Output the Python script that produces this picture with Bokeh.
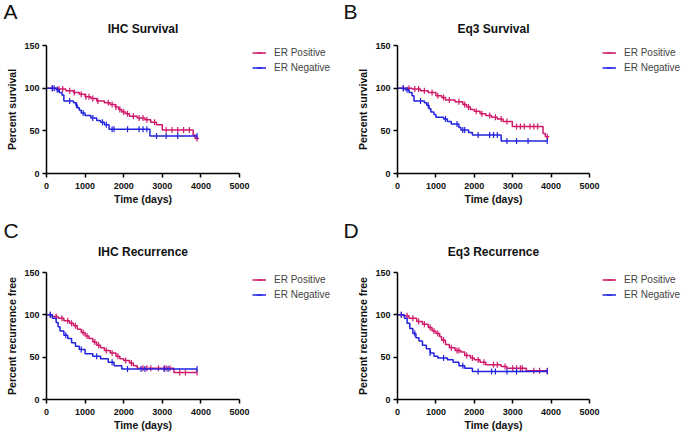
import numpy as np
from bokeh.plotting import figure
from bokeh.layouts import column, row
from bokeh.models import Range1d, Legend, LegendItem, FixedTicker, ColumnDataSource, Title
from bokeh.embed import file_html
from bokeh.resources import INLINE

# ---------------- data ----------------
x_ticks = [0, 1000, 2000, 3000, 4000, 5000]
y_ticks = [0, 50, 100, 150]
series_names = ["ER Positive", "ER Negative"]
titles = ["IHC Survival", "Eq3 Survival", "IHC Recurrence", "Eq3 Recurrence"]
panel_letters = ["A", "B", "C", "D"]
y_labels = ["Percent survival", "Percent survival", "Percent recurrence free", "Percent recurrence free"]

# Panel A: IHC survival
a_pos_t = [0, 300, 500, 700, 850, 1000, 1150, 1300, 1500, 1650, 1780, 1870, 1950, 2050, 2150, 2350, 2550, 2700, 2850, 3000, 3800, 3850, 3950]
a_pos_s = [100, 99, 97, 95, 93, 90, 88, 85, 83, 81, 78, 75, 72, 70, 67, 65, 63, 60, 57, 51, 45, 41, 41]
a_pos_c = [150, 320, 420, 600, 720, 900, 1020, 1100, 1200, 1330, 1600, 1700, 1800, 1900, 2000, 2100, 2250, 2400, 2500, 2600, 2800, 3100, 3250, 3400, 3550, 3700, 3900]
a_neg_t = [0, 250, 330, 400, 450, 700, 760, 800, 850, 900, 1000, 1150, 1300, 1400, 1500, 1620, 2680, 3900]
a_neg_s = [100, 98, 95, 92, 85, 83, 80, 77, 74, 71, 68, 65, 62, 60, 57, 52, 44, 44]
a_neg_c = [150, 200, 280, 600, 780, 950, 1200, 1450, 1550, 1700, 1750, 2100, 2400, 2500, 2600, 2850, 3100, 3400, 3900]

# Panel B: Eq3 survival
b_pos_t = [0, 380, 600, 800, 1000, 1150, 1250, 1500, 1700, 1800, 1900, 2000, 2150, 2300, 2450, 2600, 2750, 2990, 3790, 3850, 3950]
b_pos_s = [100, 99, 97, 95, 91, 89, 86, 84, 81, 78, 75, 73, 70, 68, 66, 64, 61, 55, 47, 43, 43]
b_pos_c = [150, 300, 450, 550, 700, 900, 1050, 1200, 1350, 1600, 1750, 1850, 2050, 2200, 2400, 2550, 2700, 2850, 3100, 3200, 3300, 3450, 3550, 3650, 3900]
b_neg_t = [0, 200, 300, 380, 430, 700, 760, 820, 870, 950, 1000, 1200, 1300, 1400, 1600, 1650, 1850, 1950, 2700, 3900]
b_neg_s = [100, 98, 95, 91, 85, 83, 80, 76, 72, 69, 66, 64, 61, 58, 54, 51, 48, 45, 38, 38]
b_neg_c = [150, 250, 600, 800, 1250, 1550, 1700, 1750, 2100, 2400, 2500, 2600, 2850, 3100, 3400, 3900]

# Panel C: IHC recurrence
c_pos_t = [0, 150, 300, 450, 600, 700, 800, 900, 1000, 1100, 1200, 1300, 1400, 1500, 1650, 1800, 1900, 2000, 2150, 2250, 2350, 3300, 3900]
c_pos_s = [100, 98, 96, 93, 90, 87, 83, 79, 75, 72, 68, 64, 61, 58, 55, 51, 48, 46, 43, 40, 37, 32, 32]
c_pos_c = [100, 250, 400, 550, 650, 750, 950, 1050, 1250, 1350, 1550, 1700, 1850, 2050, 2200, 2500, 2600, 2700, 2900, 3050, 3100, 3200, 3450, 3600, 3900]
c_neg_t = [0, 150, 250, 300, 350, 450, 550, 650, 750, 850, 1000, 1200, 1400, 1600, 1750, 1950, 3900]
c_neg_s = [100, 96, 91, 86, 81, 76, 72, 67, 63, 59, 54, 51, 48, 44, 40, 36, 36]
c_neg_c = [100, 500, 900, 1300, 1700, 2100, 2450, 2550, 3050, 3150, 3900]

# Panel D: Eq3 recurrence
d_pos_t = [0, 150, 300, 500, 650, 800, 900, 1000, 1100, 1150, 1250, 1350, 1500, 1650, 1750, 1900, 2000, 2150, 2300, 2700, 2850, 3350, 3900]
d_pos_s = [100, 99, 96, 92, 89, 85, 81, 78, 74, 70, 65, 61, 58, 56, 52, 49, 47, 44, 41, 39, 37, 34, 34]
d_pos_c = [100, 250, 400, 550, 700, 850, 950, 1050, 1200, 1400, 1550, 1600, 1800, 1950, 2100, 2250, 2500, 2600, 2800, 3000, 3100, 3200, 3250, 3550, 3700, 3900]
d_neg_t = [0, 180, 250, 320, 400, 480, 560, 650, 750, 850, 950, 1050, 1300, 1450, 1600, 1750, 1950, 3900]
d_neg_s = [100, 96, 90, 84, 78, 73, 69, 64, 60, 55, 51, 49, 47, 44, 40, 37, 33, 33]
d_neg_c = [100, 450, 850, 1200, 1700, 2100, 2450, 2550, 2850, 3100, 3900]

panels = [
    (a_pos_t, a_pos_s, a_pos_c, a_neg_t, a_neg_s, a_neg_c),
    (b_pos_t, b_pos_s, b_pos_c, b_neg_t, b_neg_s, b_neg_c),
    (c_pos_t, c_pos_s, c_pos_c, c_neg_t, c_neg_s, c_neg_c),
    (d_pos_t, d_pos_s, d_pos_c, d_neg_t, d_neg_s, d_neg_c),
]

POS_COLOR = "#D0186A"
NEG_COLOR = "#2222E0"
FONT = "Liberation Sans"


def value_at(ts, ss, c):
    ts = np.asarray(ts, dtype=float)
    idx = np.searchsorted(ts, np.asarray(c, dtype=float), side="right") - 1
    idx = np.clip(idx, 0, len(ss) - 1)
    return np.asarray(ss, dtype=float)[idx]


def make_panel(i, width, height, mb_left, mb_right, mb_top, mb_bottom, title_standoff, letter_offset):
    pos_t, pos_s, pos_c, neg_t, neg_s, neg_c = panels[i]
    # outer title: panel letter
    p = figure(width=width, height=height, output_backend="svg", toolbar_location=None,
               x_range=Range1d(0, 5000), y_range=Range1d(0, 150),
               min_border_left=mb_left, min_border_right=mb_right,
               min_border_top=mb_top, min_border_bottom=mb_bottom,
               title=panel_letters[i])
    p.title.text_font = FONT
    p.title.text_font_style = "normal"
    p.title.text_font_size = "21px"
    p.title.align = "left"
    p.title.offset = letter_offset
    p.title.standoff = -24
    p.title.text_color = "#111111"

    # inner title: panel title (closer to the frame)
    t = Title(text=titles[i], align="center", standoff=title_standoff,
              text_font=FONT, text_font_style="bold", text_font_size="12px",
              text_color="#111111")
    p.add_layout(t, "above")

    p.outline_line_color = None
    p.xgrid.visible = False
    p.ygrid.visible = False
    p.background_fill_color = "white"
    p.border_fill_color = "white"

    for ax in (p.xaxis[0], p.yaxis[0]):
        ax.axis_line_width = 1.5
        ax.axis_line_color = "black"
        ax.major_tick_line_color = "black"
        ax.major_tick_line_width = 1.5
        ax.major_tick_out = 4
        ax.major_tick_in = 0
        ax.minor_tick_line_color = None
        ax.major_label_text_font = FONT
        ax.major_label_text_font_style = "bold"
        ax.major_label_text_font_size = "9px"
        ax.major_label_text_color = "#111111"
        ax.axis_label_text_font = FONT
        ax.axis_label_text_font_style = "bold"
        ax.axis_label_text_font_size = "10.5px"
        ax.axis_label_text_color = "#111111"
    p.xaxis.ticker = FixedTicker(ticks=x_ticks)
    p.yaxis.ticker = FixedTicker(ticks=y_ticks)
    p.xaxis.axis_label = "Time (days)"
    p.yaxis.axis_label = y_labels[i]
    p.xaxis.major_label_standoff = 5
    p.xaxis.axis_label_standoff = 1
    p.yaxis.major_label_standoff = 3
    p.yaxis.axis_label_standoff = 3

    for ts, ss, cs, col in ((pos_t, pos_s, pos_c, POS_COLOR), (neg_t, neg_s, neg_c, NEG_COLOR)):
        p.step(x=ts, y=ss, mode="after", line_color=col, line_width=1.5)
        src = ColumnDataSource(dict(x=cs, y=value_at(ts, ss, cs)))
        p.scatter(x="x", y="y", source=src, marker="dash", angle=np.pi / 2, size=6,
                  line_color=col, line_width=1.2)
    return p


def make_legend(i, width, height, mb_top):
    pos_t, pos_s, pos_c, neg_t, neg_s, neg_c = panels[i]
    q = figure(width=width, height=height, output_backend="svg", toolbar_location=None,
               x_range=Range1d(-2, -1), y_range=Range1d(-2, -1),
               x_axis_location=None, y_axis_location=None,
               min_border_left=0, min_border_right=0, min_border_top=mb_top, min_border_bottom=0)
    q.outline_line_color = None
    q.xgrid.visible = False
    q.ygrid.visible = False
    items = []
    for name, ts, ss, col in zip(series_names, (pos_t, neg_t), (pos_s, neg_s), (POS_COLOR, NEG_COLOR)):
        src = ColumnDataSource(dict(x=ts, y=ss))
        ln = q.line(x="x", y="y", source=src, line_color=col, line_width=1.5)
        sc = q.scatter(x="x", y="y", source=src, marker="dash", angle=np.pi / 2, size=6,
                       line_color=col, line_width=1.2)
        items.append(LegendItem(label=name, renderers=[ln, sc]))
    legend = Legend(items=items, location="top_left", margin=0, padding=0, spacing=0,
                    glyph_width=14, glyph_height=15, label_height=15, label_standoff=8,
                    label_text_font=FONT, label_text_font_size="10px",
                    label_text_color="#444444", background_fill_alpha=0,
                    border_line_color=None)
    q.add_layout(legend, "center")
    return q


pa = make_panel(0, 252, 216, 46, 13, 45, 43, 19, -43)
la = make_legend(0, 88, 216, 45)
pb = make_panel(1, 262, 216, 57, 13, 45, 43, 19, -54)
lb = make_legend(1, 81, 216, 45)
pc = make_panel(2, 252, 217, 46, 13, 56, 34, 27, -43)
lc = make_legend(2, 88, 217, 56)
pd = make_panel(3, 262, 217, 57, 13, 56, 34, 27, -54)
ld = make_legend(3, 81, 217, 56)

layout = column(row(pa, la, pb, lb, spacing=0), row(pc, lc, pd, ld, spacing=0), spacing=0)
open("out.html", "w").write(file_html(layout, INLINE))
